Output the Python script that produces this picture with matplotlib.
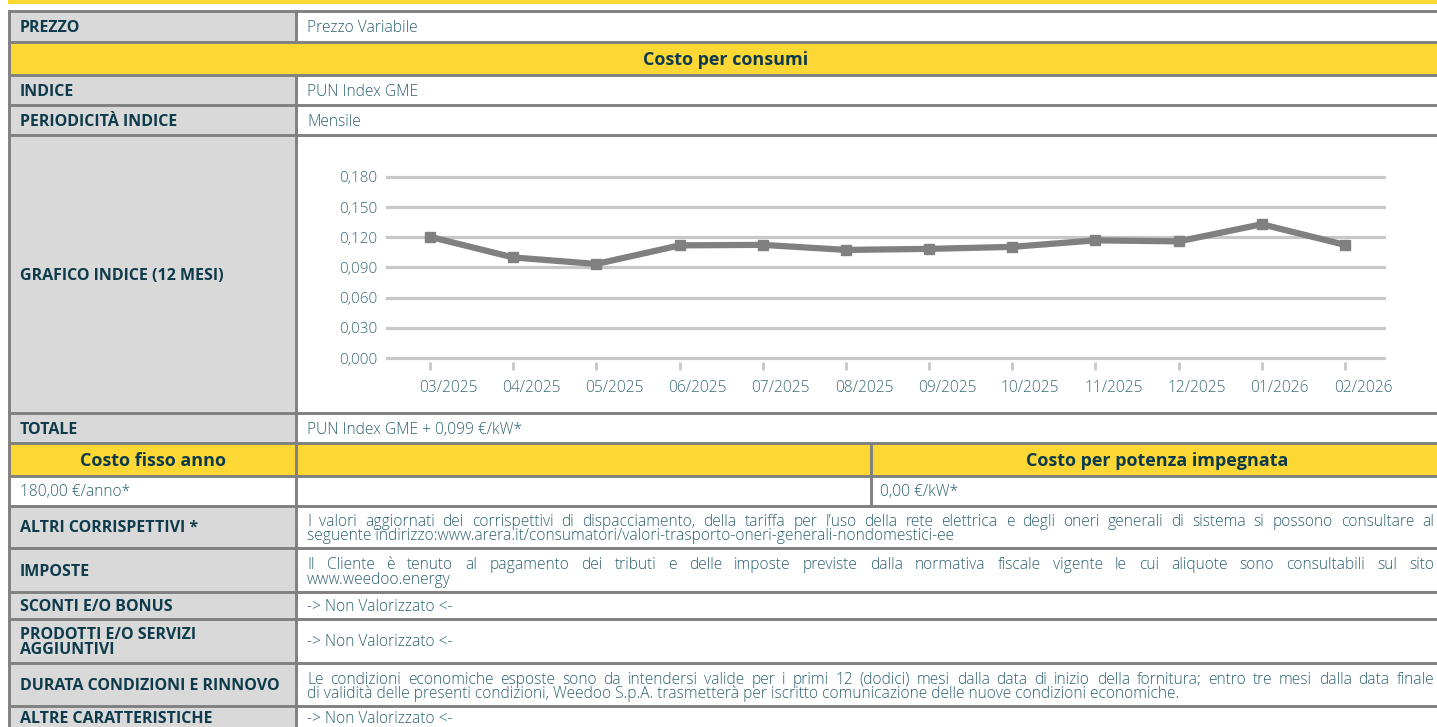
import matplotlib
matplotlib.use("Agg")
import matplotlib.pyplot as plt
from matplotlib.patches import Rectangle
from matplotlib.transforms import ScaledTranslation

# ---- data ----
months = ["03/2025", "04/2025", "05/2025", "06/2025", "07/2025", "08/2025",
          "09/2025", "10/2025", "11/2025", "12/2025", "01/2026", "02/2026"]
pun_values = [0.1205, 0.1000, 0.0935, 0.1120, 0.1125, 0.1075,
              0.1085, 0.1105, 0.1170, 0.1160, 0.1330, 0.1125]
y_ticks = [0.0, 0.03, 0.06, 0.09, 0.12, 0.15, 0.18]
y_tick_labels = ["0,000", "0,030", "0,060", "0,090", "0,120", "0,150", "0,180"]

labels_left = ["PREZZO", "INDICE", "PERIODICITÀ INDICE", "GRAFICO INDICE (12 MESI)",
               "TOTALE", "ALTRI CORRISPETTIVI *", "IMPOSTE", "SCONTI E/O BONUS",
               "PRODOTTI E/O SERVIZI\nAGGIUNTIVI", "DURATA CONDIZIONI E RINNOVO",
               "ALTRE CARATTERISTICHE"]
values_right = ["Prezzo Variabile", "PUN Index GME", "Mensile", "",
                "PUN Index GME + 0,099 €/kW*", None, None,
                "-> Non Valorizzato <-", "-> Non Valorizzato <-", None,
                "-> Non Valorizzato <-"]
altri_text = ["I valori aggiornati dei corrispettivi di dispacciamento, della tariffa per l’uso della rete elettrica e degli oneri generali di sistema si possono consultare al",
              "seguente indirizzo:www.arera.it/consumatori/valori-trasporto-oneri-generali-nondomestici-ee"]
imposte_text = ["Il Cliente è tenuto al pagamento dei tributi e delle imposte previste dalla normativa fiscale vigente le cui aliquote sono consultabili sul sito",
                "www.weedoo.energy"]
durata_text = ["Le condizioni economiche esposte sono da intendersi valide per i primi 12 (dodici) mesi dalla data di inizio della fornitura; entro tre mesi dalla data finale",
               "di validità delle presenti condizioni, Weedoo S.p.A. trasmetterà per iscritto comunicazione delle nuove condizioni economiche."]

# ---- style ----
W, H = 1437, 727
YELLOW = "#fdd835"
GREY_BG = "#d9d9d9"
BORDER = "#808080"
DARK = "#0e3b4b"
BODY = "#2c6070"
FONT = "Open Sans"
LABEL_KW = dict(family=FONT, weight="bold", size=11.5, color=DARK, va="center", ha="left")
BODY_KW = dict(family=FONT, weight="light", size=11.2, color=BODY, va="center", ha="left")

fig = plt.figure(figsize=(W / 100, H / 100), dpi=100)
ax = fig.add_axes([0, 0, 1, 1])
ax.set_xlim(0, W)
ax.set_ylim(H, 0)
ax.axis("off")

X0, XSEP, XMID, X1 = 9, 296, 871, W + 5
# row boundaries (pixels)
rows = {
    "PREZZO": (11, 42), "CONSUMI": (42, 75), "INDICE": (75, 105),
    "PERIODICITA": (105, 135), "GRAFICO": (135, 413), "TOTALE": (413, 443),
    "FISSO": (443, 476), "FISSO_VAL": (476, 506), "ALTRI": (506, 548),
    "IMPOSTE": (548, 592), "SCONTI": (592, 619), "PRODOTTI": (619, 663),
    "DURATA": (663, 706), "ALTRE": (706, 745),
}
std_rows = ["PREZZO", "INDICE", "PERIODICITA", "GRAFICO", "TOTALE", "ALTRI",
            "IMPOSTE", "SCONTI", "PRODOTTI", "DURATA", "ALTRE"]


def rect(x0, y0, x1, y1, color):
    ax.add_patch(Rectangle((x0, y0), x1 - x0, y1 - y0, facecolor=color,
                           edgecolor="none", zorder=1))


# top yellow band
rect(X0 - 1, 0, X1, 4, YELLOW)

for key in std_rows:
    y0, y1 = rows[key]
    rect(X0, y0, XSEP, y1, GREY_BG)
    rect(XSEP, y0, X1, y1, "white")
y0, y1 = rows["CONSUMI"]
rect(X0, y0, X1, y1, YELLOW)
y0, y1 = rows["FISSO"]
rect(X0, y0, X1, y1, YELLOW)
y0, y1 = rows["FISSO_VAL"]
rect(X0, y0, X1, y1, "white")

# borders
lw = 2.1
bounds = sorted(set([v for r in rows.values() for v in r]))
for b in bounds:
    if b < H:
        ax.plot([X0, X1], [b, b], color=BORDER, lw=lw, zorder=3, solid_capstyle="butt")
top, bottom = rows["PREZZO"][0], H + 5
ax.plot([X0, X0], [top, bottom], color=BORDER, lw=lw, zorder=3)
for key in std_rows:
    y0, y1 = rows[key]
    ax.plot([XSEP, XSEP], [y0, y1], color=BORDER, lw=lw, zorder=3)
for key in ["FISSO", "FISSO_VAL"]:
    y0, y1 = rows[key]
    ax.plot([XSEP, XSEP], [y0, y1], color=BORDER, lw=lw, zorder=3)
    ax.plot([XMID, XMID], [y0, y1], color=BORDER, lw=lw, zorder=3)

# left labels and simple values
for key, lab, val in zip(std_rows, labels_left, values_right):
    y0, y1 = rows[key]
    yc = (y0 + y1) / 2 + 1.5
    if key == "ALTRE":
        yc = 719
    ax.text(20, yc, lab, linespacing=0.95, zorder=4, **LABEL_KW)
    if val:
        ax.text(307, yc, val, zorder=4, **BODY_KW)

# yellow header texts
hdr = dict(family=FONT, weight="bold", size=13, color=DARK, va="center", ha="center", zorder=4)
ax.text((X0 + W) / 2 + 3, sum(rows["CONSUMI"]) / 2 + 1.5, "Costo per consumi", **hdr)
ax.text((X0 + XSEP) / 2, sum(rows["FISSO"]) / 2 + 1.5, "Costo fisso anno", **hdr)
ax.text((XMID + W) / 2 + 3, sum(rows["FISSO"]) / 2 + 1.5, "Costo per potenza impegnata", **hdr)
yv = sum(rows["FISSO_VAL"]) / 2 + 1.5
ax.text(20, yv, "180,00 €/anno*", zorder=4, **BODY_KW)
ax.text(880, yv, "0,00 €/kW*", zorder=4, **BODY_KW)

# justified paragraphs
renderer = fig.canvas.get_renderer()


def justified_line(text, x0, x1, y):
    words = text.split(" ")
    arts = [ax.text(0, y, w, zorder=4, **BODY_KW) for w in words]
    widths = [a.get_window_extent(renderer).width for a in arts]
    gap = (x1 - x0 - sum(widths)) / (len(words) - 1)
    x = x0
    for a, w in zip(arts, widths):
        a.set_x(x)
        x += w + gap


for key, para in [("ALTRI", altri_text), ("IMPOSTE", imposte_text), ("DURATA", durata_text)]:
    y0, y1 = rows[key]
    yc = (y0 + y1) / 2 + 1
    justified_line(para[0], 307, 1434, yc - 6)
    ax.text(307, yc + 8.5, para[1], zorder=4, **BODY_KW)

# ---- embedded chart ----
px_unit = 1005.6
ylo, yhi = -0.004, 0.19
ax_bot = 358 + (0 - ylo) * px_unit
ax_top = 358 - yhi * px_unit
cax = fig.add_axes([386 / W, 1 - ax_bot / H, 1000 / W, (ax_bot - ax_top) / H])
cax.set_zorder(5)
cax.patch.set_alpha(0)
xs = list(range(len(months)))
cax.plot(xs, pun_values, color="#808080", lw=4.5, marker="s", ms=7,
         solid_joinstyle="miter", zorder=3)
cax.set_ylim(ylo, yhi)
cax.set_xlim(-0.529, 11.493)
cax.set_yticks(y_ticks)
cax.set_yticklabels(y_tick_labels)
cax.set_xticks(xs)
cax.set_xticklabels(months)
for s in cax.spines.values():
    s.set_visible(False)
cax.grid(axis="y", color="#c8c8c8", lw=2.3)
cax.set_axisbelow(True)
cax.tick_params(axis="y", length=0, pad=6, labelsize=11, labelcolor="#3b6a78")
cax.tick_params(axis="x", length=6, width=2, color="#c8c8c8", pad=7,
                labelsize=11.2, labelcolor="#3b6a78")
for lab in cax.get_yticklabels() + cax.get_xticklabels():
    lab.set_family(FONT)
    lab.set_fontweight("light")
off = ScaledTranslation(18 / 100, 0, fig.dpi_scale_trans)
for lab in cax.get_xticklabels():
    lab.set_transform(lab.get_transform() + off)

fig.savefig("out.png", dpi=100)
